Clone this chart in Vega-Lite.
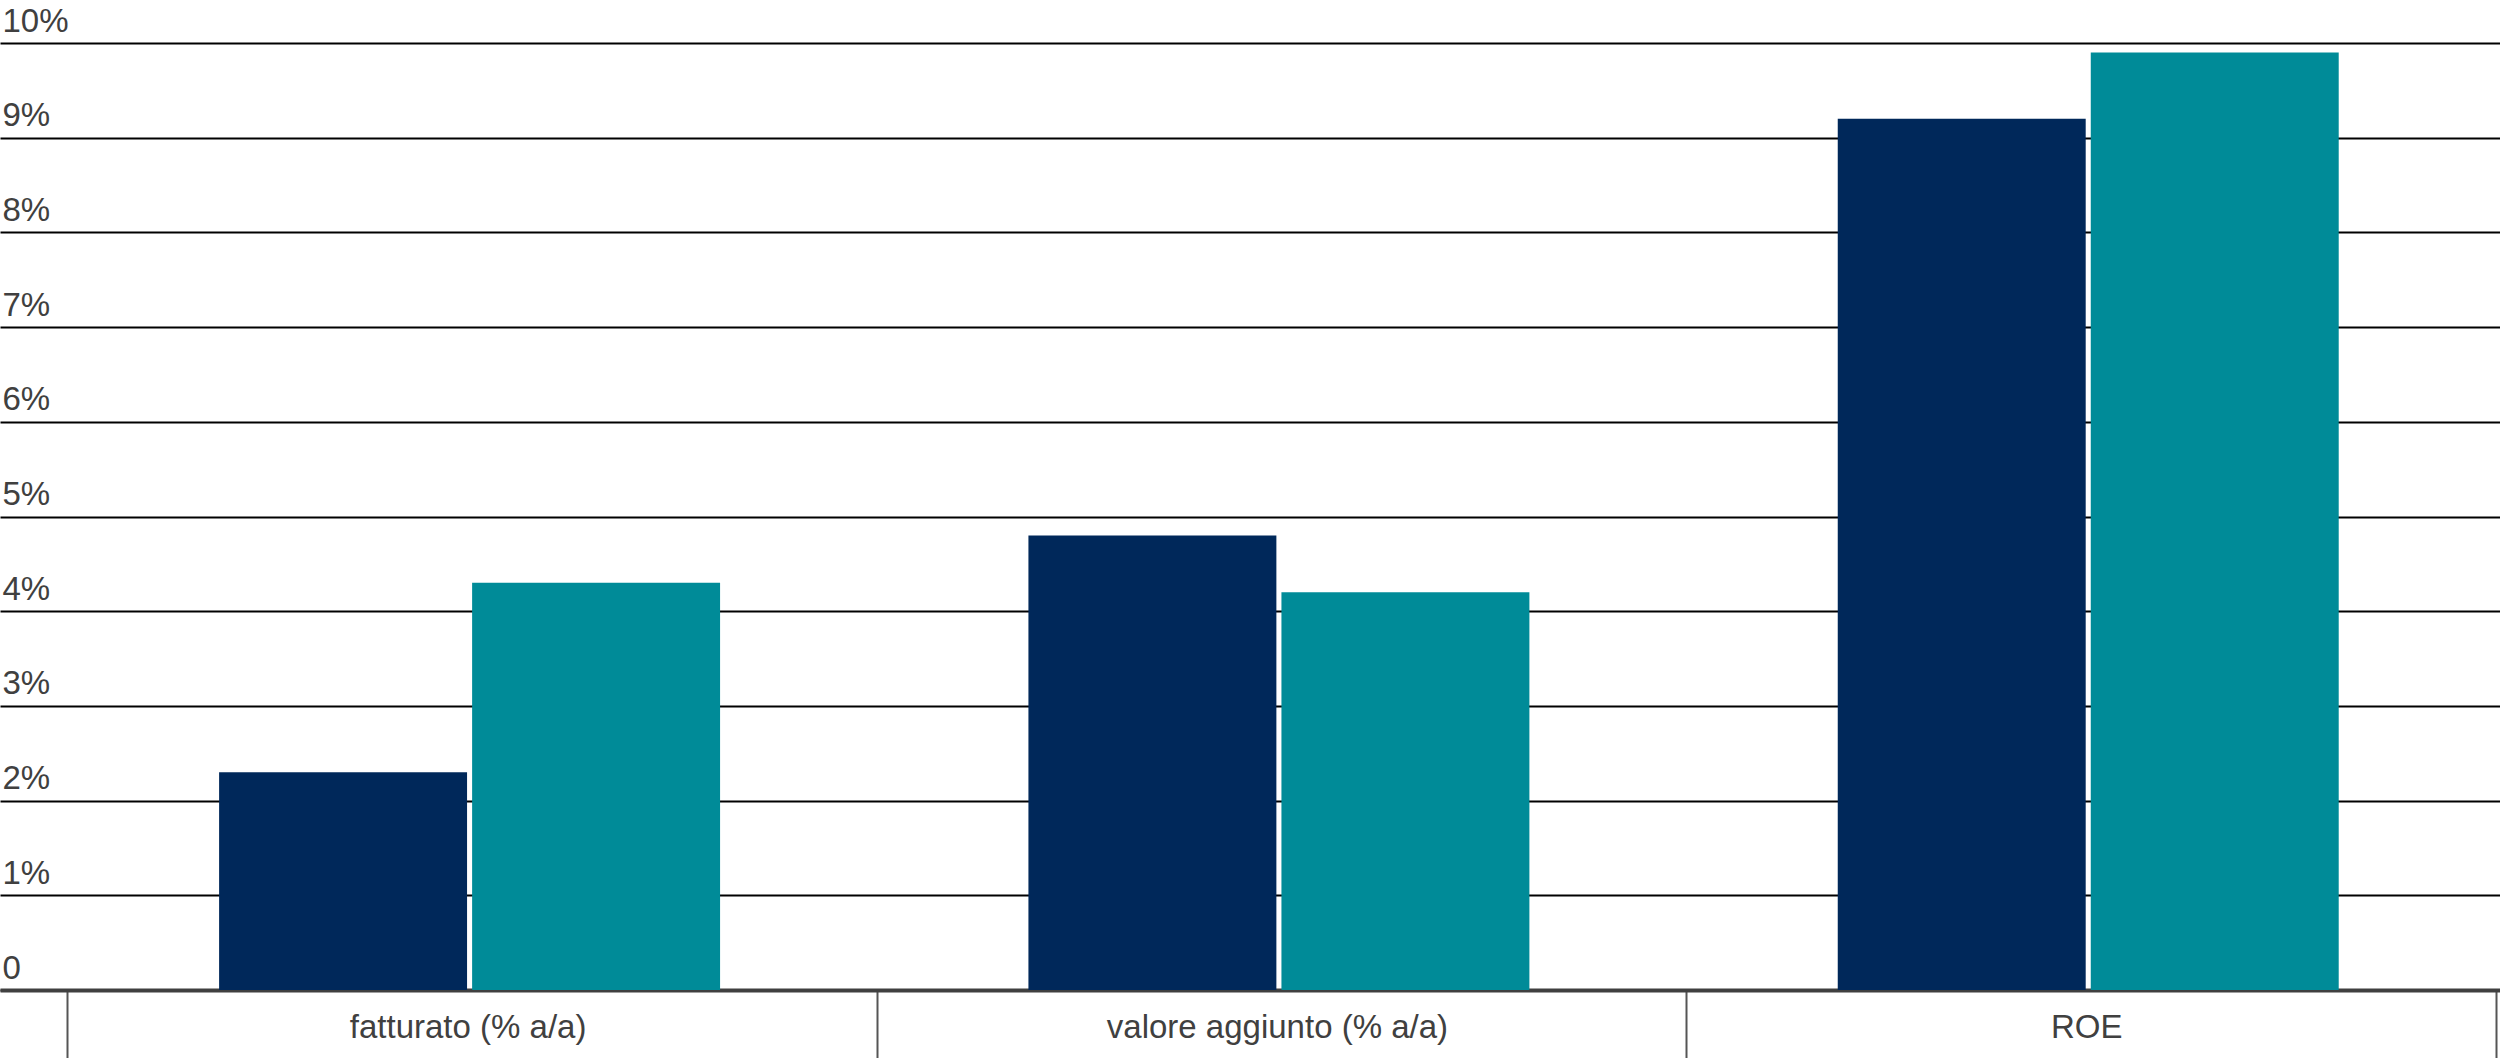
{
  "$schema": "https://vega.github.io/schema/vega-lite/v6.json",
  "width": 2500,
  "height": 947,
  "autosize": {"type": "none"},
  "padding": {"left": 0, "top": 43, "right": 0, "bottom": 68},
  "background": "white",
  "config": {"view": {"stroke": null}, "font": "Liberation Sans"},
  "data": {
    "values": [
      {"voce": "fatturato (% a/a)", "serie": "serie 1", "valore": 2.3},
      {"voce": "fatturato (% a/a)", "serie": "serie 2", "valore": 4.3},
      {"voce": "valore aggiunto (% a/a)", "serie": "serie 1", "valore": 4.8},
      {"voce": "valore aggiunto (% a/a)", "serie": "serie 2", "valore": 4.2},
      {"voce": "ROE", "serie": "serie 1", "valore": 9.2},
      {"voce": "ROE", "serie": "serie 2", "valore": 9.9}
    ]
  },
  "mark": {"type": "bar"},
  "encoding": {
    "x": {
      "field": "voce",
      "type": "nominal",
      "sort": ["fatturato (% a/a)", "valore aggiunto (% a/a)", "ROE"],
      "scale": {"paddingInner": 0.381, "paddingOuter": 0.235, "align": 0.576},
      "axis": {
        "title": null,
        "labelAngle": 0,
        "labelFontSize": 33,
        "labelFont": "Liberation Sans",
        "labelColor": "#404040",
        "labelBaseline": "alphabetic",
        "labelPadding": -23,
        "labelLimit": 0,
        "labelOffset": 150,
        "domainColor": "#404040",
        "domainWidth": 4,
        "bandPosition": 1.6168,
        "tickExtra": true,
        "tickOffset": -152,
        "tickColor": "#555555",
        "tickWidth": 2,
        "tickSize": 70,
        "grid": false
      }
    },
    "xOffset": {
      "field": "serie",
      "type": "nominal",
      "scale": {"paddingInner": 0.02, "paddingOuter": 0}
    },
    "y": {
      "field": "valore",
      "type": "quantitative",
      "scale": {"domain": [0, 10], "nice": false},
      "axis": {
        "title": null,
        "values": [0, 1, 2, 3, 4, 5, 6, 7, 8, 9, 10],
        "labelExpr": "datum.value == 0 ? '0' : datum.value + '%'",
        "grid": true,
        "gridColor": "#000000",
        "gridWidth": 2,
        "domain": false,
        "ticks": false,
        "tickSize": 0,
        "labelAlign": "left",
        "labelBaseline": "alphabetic",
        "labelOffset": -12,
        "labelPadding": -2,
        "labelFontSize": 33,
        "labelFont": "Liberation Sans",
        "labelColor": "#404040"
      }
    },
    "color": {
      "field": "serie",
      "type": "nominal",
      "scale": {"range": ["#00285A", "#008B98"]},
      "legend": null
    }
  }
}
